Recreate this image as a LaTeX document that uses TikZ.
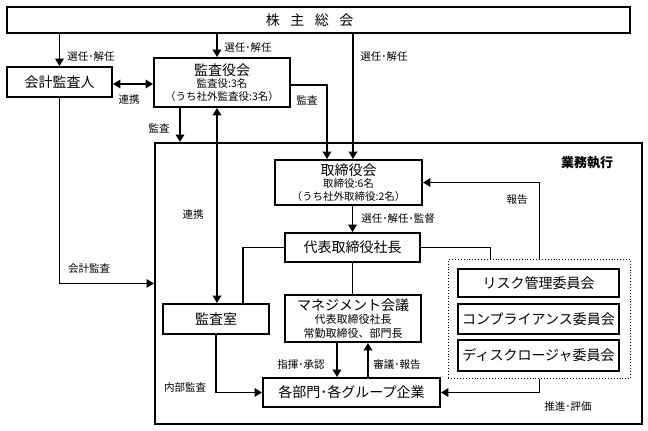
\documentclass[tikz,border=0pt]{standalone}
\usepackage{fontspec}
\setmainfont{Noto Sans CJK JP}
\usetikzlibrary{arrows.meta}
\newcommand\bigf{\fontsize{14}{16}\selectfont}
\newcommand\smf{\fontsize{10.5}{13}\selectfont}
\newcommand\lblf{\fontsize{10.5}{12}\selectfont}
\tikzset{
  box/.style={draw, line width=1.9pt, inner sep=0pt, align=center, fill=white, font=\bigf},
  mbox/.style={draw, line width=1.9pt, inner sep=0pt, align=center, fill=white, font=\smf},
  lbl/.style={inner sep=0pt, font=\lblf},
  ln/.style={line width=1.9pt},
  arr/.style={line width=1.9pt, -{Triangle[length=7.5pt,width=8.5pt]}},
  darr/.style={line width=1.9pt, {Triangle[length=7.5pt,width=8.5pt]}-{Triangle[length=7.5pt,width=8.5pt]}}
}
\begin{document}
\begin{tikzpicture}[x=1pt,y=-1pt]
\useasboundingbox (0,0) rectangle (648,431);
% big execution frame
\node[draw, line width=1.9pt, inner sep=0pt, minimum width=487pt, minimum height=281pt, anchor=north west] (big) at (154,142) {};
\node[inner sep=0pt, font=\fontsize{13}{15}\selectfont\bfseries] (gyomu) at (587,163) {業務執行};
% dotted committee frame
\node[draw, dotted, line width=0.9pt, inner sep=0pt, minimum width=182pt, minimum height=119pt, anchor=north west] (dot) at (448,259) {};
% boxes
\node[box, minimum width=623pt, minimum height=26pt] (sh) at (318.5,20) {株\hspace{10.5pt}主\hspace{10.5pt}総\hspace{10.5pt}会\hspace*{18pt}};
\node[box, minimum width=105pt, minimum height=30pt] (kaikei) at (59.5,82) {会計監査人};
\node[mbox, minimum width=136pt, minimum height=49pt] (kansa) at (222,82.5) {{\bigf 監査役会}\\[-1pt]監査役:3名\\（うち社外監査役:3名）};
\node[mbox, minimum width=147pt, minimum height=45pt] (tori) at (348.5,182.5) {{\bigf 取締役会}\\[-1pt]取締役:6名\\（うち社外取締役:2名）};
\node[box, minimum width=135pt, minimum height=29pt] (daihyo) at (352.5,247.5) {代表取締役社長};
\node[box, minimum width=106pt, minimum height=30pt] (shitsu) at (216,319) {監査室};
\node[mbox, minimum width=136pt, minimum height=47pt, font=\fontsize{11}{14}\selectfont] (mgmt) at (353,318.5) {{\bigf マネジメント会議}\\[-1pt]代表取締役社長\\常勤取締役、部門長};
\node[box, minimum width=177pt, minimum height=29pt] (kakubu) at (351.5,392.5) {各部門･各グループ企業};
\node[box, minimum width=161pt, minimum height=28pt] (risk) at (538.5,283) {リスク管理委員会};
\node[box, minimum width=161pt, minimum height=30pt] (comp) at (538.5,319) {コンプライアンス委員会};
\node[box, minimum width=161pt, minimum height=31pt] (disc) at (538.5,355.5) {ディスクロージャ委員会};
% connectors
\draw[arr] (kaikei.north |- sh.south) -- (kaikei.north);
\draw[arr] ([xshift=-5pt]kansa.north |- sh.south) -- ([xshift=-5pt]kansa.north);
\draw[arr] ([xshift=4.5pt]tori.north |- sh.south) -- ([xshift=4.5pt]tori.north);
\draw[arr] ([yshift=-2.5pt]kansa.east) -| ([xshift=-21.5pt]tori.north);
\draw[arr] ([xshift=-42pt]kansa.south) -- ([xshift=-42pt]kansa.south |- big.north);
\draw[darr] ([yshift=-2pt]kaikei.east) -- ([yshift=-2pt]kaikei.east -| kansa.west);
\draw[darr] ([xshift=1pt]shitsu.north |- kansa.south) -- ([xshift=1pt]shitsu.north);
\draw[arr] (kaikei.south) |- (big.west);
\draw[arr] (daihyo.north |- tori.south) -- (daihyo.north);
\draw[arr] (dot.north) |- (tori.east);
\draw[ln] (daihyo.east) -| ([xshift=-49pt]dot.north);
\draw[ln] (daihyo.west) -| ([xshift=27pt]shitsu.north);
\draw[ln] (daihyo.south) -- (daihyo.south |- mgmt.north);
\draw[arr] ([xshift=-16pt]mgmt.south) -- ([xshift=-16pt]mgmt.south |- kakubu.north);
\draw[arr] ([xshift=15pt]mgmt.south |- kakubu.north) -- ([xshift=15pt]mgmt.south);
\draw[arr] (shitsu.south) |- (kakubu.west);
\draw[arr] (dot.south) |- (kakubu.east);
% labels
\node[lbl] (l1) at (91,57) {選任･解任};
\node[lbl] (l2) at (248,48) {選任･解任};
\node[lbl] (l3) at (384,57) {選任･解任};
\node[lbl] (l4) at (129,100) {連携};
\node[lbl] (l5) at (307,100) {監査};
\node[lbl] (l6) at (159,128) {監査};
\node[lbl] (l7) at (193,215) {連携};
\node[lbl] (l8) at (89,269) {会計監査};
\node[lbl] (l9) at (517,200) {報告};
\node[lbl] (l10) at (398,219) {選任･解任･監督};
\node[lbl] (l11) at (301,365) {指揮･承認};
\node[lbl] (l12) at (397,365) {審議･報告};
\node[lbl] (l13) at (185,388) {内部監査};
\node[lbl] (l14) at (568,406) {推進･評価};
\end{tikzpicture}
\end{document}
